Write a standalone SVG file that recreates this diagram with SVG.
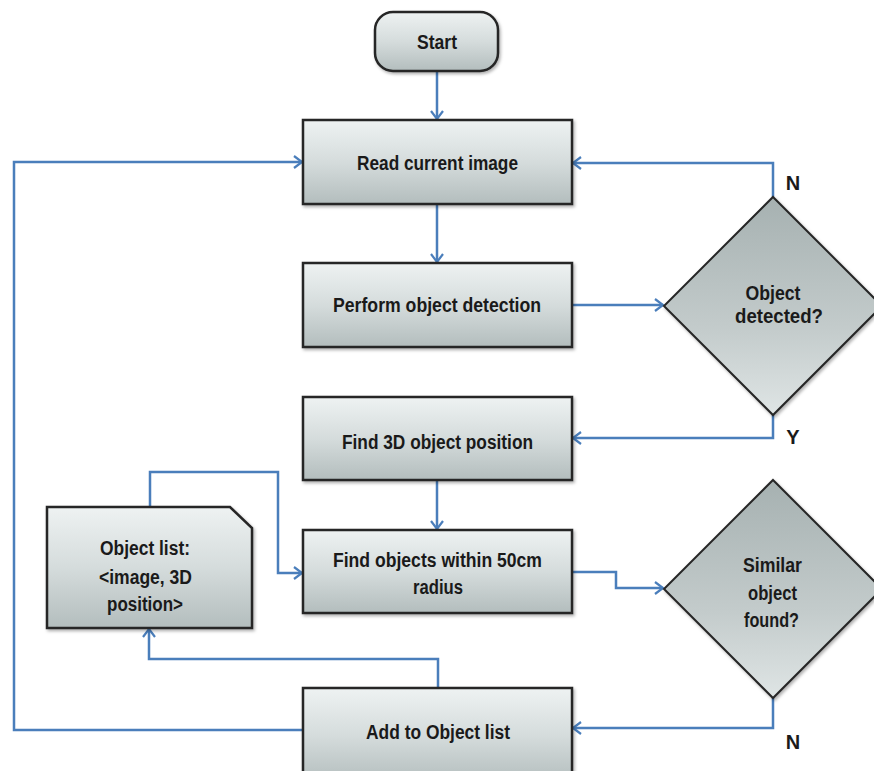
<svg xmlns="http://www.w3.org/2000/svg" width="874" height="771" viewBox="0 0 874 771">
<style>
.node{stroke:#262626;stroke-width:2.5;fill:url(#boxg);filter:url(#sh)}
.dia{stroke:#262626;stroke-width:2;fill:url(#diag);filter:url(#sh)}
.t{font-family:"Liberation Sans",Arial,sans-serif;font-weight:bold;font-size:20px;fill:#1a1a1a;text-anchor:middle;dominant-baseline:central}
.lbl{font-family:"Liberation Sans",Arial,sans-serif;font-weight:bold;font-size:20px;fill:#1a1a1a;text-anchor:middle;dominant-baseline:central}
.c{fill:none;stroke:#4a7ebb;stroke-width:2.5;marker-end:url(#ar)}
</style>
<defs>
<linearGradient id="boxg" x1="0" y1="0" x2="0" y2="1">
<stop offset="0" stop-color="#eef2f2"/>
<stop offset="0.5" stop-color="#d5dcdc"/>
<stop offset="1" stop-color="#b3bdbd"/>
</linearGradient>
<linearGradient id="diag" x1="0" y1="0" x2="0" y2="1">
<stop offset="0" stop-color="#a6b1b1"/>
<stop offset="0.6" stop-color="#c3cbcb"/>
<stop offset="1" stop-color="#dfe5e5"/>
</linearGradient>
<filter id="sh" x="-10%" y="-10%" width="130%" height="130%">
<feDropShadow dx="1.5" dy="2" stdDeviation="1.5" flood-color="#000" flood-opacity="0.3"/>
</filter>
<marker id="ar" markerWidth="12" markerHeight="14" refX="10" refY="7" orient="auto" markerUnits="userSpaceOnUse">
<path d="M2,1 L10,7 L2,13" fill="none" stroke="#4a7ebb" stroke-width="2.2"/>
</marker>
</defs>
<rect width="874" height="771" fill="#ffffff"/>
<g id="connectors">
<path class="c" d="M437,71 V119"/>
<path class="c" d="M437,204 V262"/>
<path class="c" d="M572,305 H663"/>
<path class="c" d="M773,197 V163 H573"/>
<path class="c" d="M773,415 V438 H573"/>
<path class="c" d="M437,480 V529"/>
<path class="c" d="M572,572 H616 V588 H663"/>
<path class="c" d="M773,697 V728 H573"/>
<path class="c" d="M438,688 V659 H149 V629"/>
<path class="c" d="M150,507 V472 H278 V573 H302"/>
<path class="c" d="M303,730 H14 V162 H302"/>
</g>
<g id="start">
<rect class="node" x="375" y="12" width="123" height="59" rx="18"/>
<text class="t" x="437" y="42" textLength="40" lengthAdjust="spacingAndGlyphs">Start</text>
</g>
<g id="read">
<rect class="node" x="303" y="120" width="269" height="84"/>
<text class="t" x="437.5" y="163" textLength="161" lengthAdjust="spacingAndGlyphs">Read current image</text>
</g>
<g id="perform">
<rect class="node" x="303" y="263" width="269" height="84"/>
<text class="t" x="437" y="305" textLength="208" lengthAdjust="spacingAndGlyphs">Perform object detection</text>
</g>
<g id="detected">
<path class="dia" d="M773,197 L882,306 L773,415 L664,306 Z"/>
<text class="t" x="773" y="293" textLength="55" lengthAdjust="spacingAndGlyphs">Object</text>
<text class="t" x="779" y="316" textLength="88" lengthAdjust="spacingAndGlyphs">detected?</text>
</g>
<g id="find3d">
<rect class="node" x="303" y="397" width="269" height="83"/>
<text class="t" x="437.5" y="442" textLength="191" lengthAdjust="spacingAndGlyphs">Find 3D object position</text>
</g>
<g id="findobjects">
<rect class="node" x="303" y="530" width="269" height="83"/>
<text class="t" x="437.5" y="560" textLength="209" lengthAdjust="spacingAndGlyphs">Find objects within 50cm</text>
<text class="t" x="438" y="587" textLength="50" lengthAdjust="spacingAndGlyphs">radius</text>
</g>
<g id="similar">
<path class="dia" d="M773,480 L882,589 L773,698 L664,589 Z"/>
<text class="t" x="772.5" y="565" textLength="59" lengthAdjust="spacingAndGlyphs">Similar</text>
<text class="t" x="772.5" y="593" textLength="49" lengthAdjust="spacingAndGlyphs">object</text>
<text class="t" x="771.5" y="620" textLength="55" lengthAdjust="spacingAndGlyphs">found?</text>
</g>
<g id="objectlist">
<path class="node" d="M47,507 H230 L252,528 V628 H47 Z"/>
<text class="t" x="145" y="548" textLength="90" lengthAdjust="spacingAndGlyphs">Object list:</text>
<text class="t" x="145.5" y="577" textLength="93" lengthAdjust="spacingAndGlyphs">&lt;image, 3D</text>
<text class="t" x="145" y="604" textLength="76" lengthAdjust="spacingAndGlyphs">position&gt;</text>
</g>
<g id="add">
<rect class="node" x="303" y="688" width="269" height="95"/>
<text class="t" x="438" y="732" textLength="144" lengthAdjust="spacingAndGlyphs">Add to Object list</text>
</g>
<g id="labels">
<text class="lbl" x="793" y="183">N</text>
<text class="lbl" x="793" y="437">Y</text>
<text class="lbl" x="793" y="742">N</text>
</g>
</svg>
